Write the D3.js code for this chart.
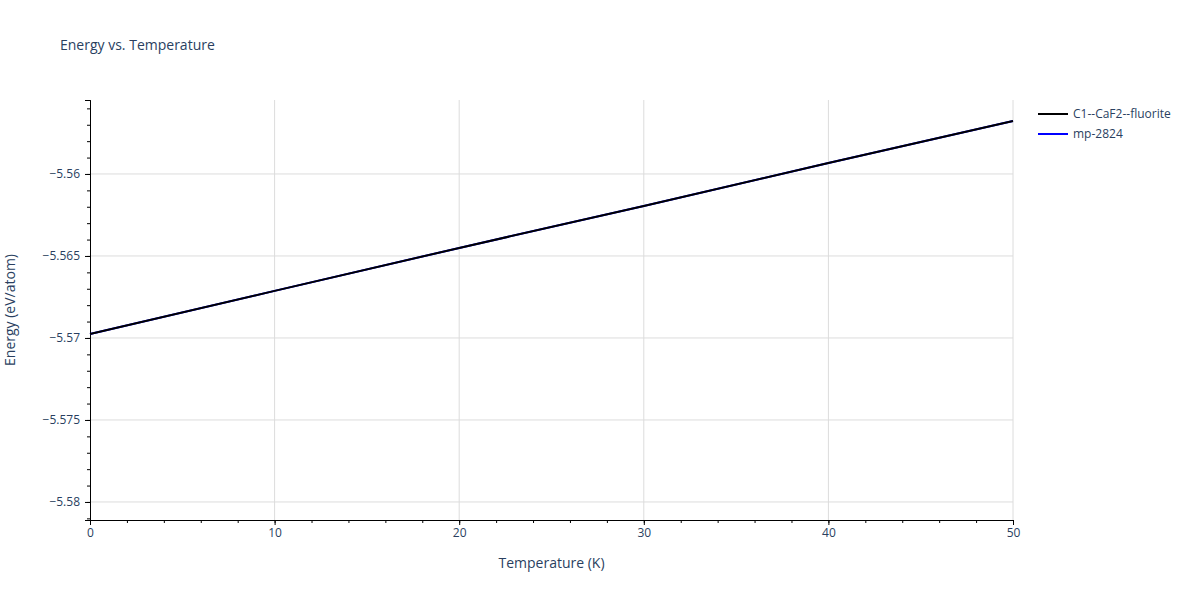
<!DOCTYPE html>
<html><head><meta charset="utf-8">
<script src="https://cdn.jsdelivr.net/npm/d3@7"></script>
<style>body{margin:0;background:#fff;font-family:"Open Sans",Arial,sans-serif;}</style>
</head><body><svg id="c" width="1200" height="600"></svg>
<script>
// data
const temps = [0, 10, 20, 30, 40, 50];
const fluoriteEnergy = [-5.56976, -5.56713, -5.56451, -5.56195, -5.55933, -5.55677];
const mpEnergy = [-5.56976, -5.56713, -5.56451, -5.56195, -5.55933, -5.55677];
const xTicks = [0, 10, 20, 30, 40, 50];
const yTicks = [-5.56, -5.565, -5.57, -5.575, -5.58];
const seriesNames = ["C1--CaF2--fluorite", "mp-2824"];
const seriesColors = ["#000000", "#0000ff"];
const textColor = "#2a3f5f";

const svg = d3.select("#c");
const L = 90, R = 1013, T = 100, B = 520;
const x = d3.scaleLinear().domain([0, 50]).range([L, R]);
const y = d3.scaleLinear().domain([-5.5811, -5.55549]).range([B, T]);

// grid
svg.append("g").selectAll("line").data(xTicks.slice(1)).join("line")
  .attr("x1", d => x(d)).attr("x2", d => x(d)).attr("y1", T).attr("y2", B)
  .attr("stroke", "#dcdcdc");
svg.append("g").selectAll("line").data(yTicks).join("line")
  .attr("x1", L).attr("x2", R).attr("y1", d => y(d)).attr("y2", d => y(d))
  .attr("stroke", "#dcdcdc");

// axes
const xa = svg.append("g").attr("transform", `translate(0,${B})`)
  .call(d3.axisBottom(x).tickValues(xTicks).tickSize(5).tickFormat(d3.format("d")));
xa.append("g").call(d3.axisBottom(x).tickValues(d3.range(0, 51, 2)).tickSize(3).tickFormat(""));
const ya = svg.append("g").attr("transform", `translate(${L},0)`)
  .call(d3.axisLeft(y).tickValues(yTicks).tickSize(5).tickFormat(d => d3.format(".3~f")(d).replace("-", "\u2212")));
ya.append("g").call(d3.axisLeft(y).tickValues(d3.range(-5.581, -5.5555, 0.001)).tickSize(3).tickFormat(""));
svg.selectAll(".domain").attr("stroke", "#000");
svg.selectAll(".tick line").attr("stroke", "#000");
svg.selectAll(".tick text").attr("fill", textColor).style("font-size", "12px").style("font-family", "Open Sans, Arial");
ya.selectAll(".tick text").attr("x", -10);

// lines
const line = d3.line().x((d, i) => x(temps[i])).y(d => y(d));
[mpEnergy, fluoriteEnergy].forEach((s, k) => {
  svg.append("path").datum(s).attr("d", line).attr("fill", "none")
    .attr("stroke", k === 0 ? seriesColors[1] : seriesColors[0]).attr("stroke-width", 2);
});

// titles
svg.append("text").attr("x", 60).attr("y", 50).text("Energy vs. Temperature")
  .attr("fill", textColor).style("font-size", "14px");
svg.append("text").attr("x", (L + R) / 2).attr("y", 568).attr("text-anchor", "middle")
  .text("Temperature (K)").attr("fill", textColor).style("font-size", "14px");
svg.append("text").attr("transform", `translate(15,${(T + B) / 2}) rotate(-90)`).attr("text-anchor", "middle")
  .text("Energy (eV/atom)").attr("fill", textColor).style("font-size", "14px");

// legend
const lg = svg.append("g").selectAll("g").data(seriesNames).join("g")
  .attr("transform", (d, i) => `translate(1038,${114 + i * 20})`);
lg.append("line").attr("x1", 0).attr("x2", 30).attr("stroke", (d, i) => seriesColors[i]).attr("stroke-width", 2);
lg.append("text").attr("x", 35).attr("y", 4).text(d => d).attr("fill", textColor).style("font-size", "12px");
</script></body></html>
